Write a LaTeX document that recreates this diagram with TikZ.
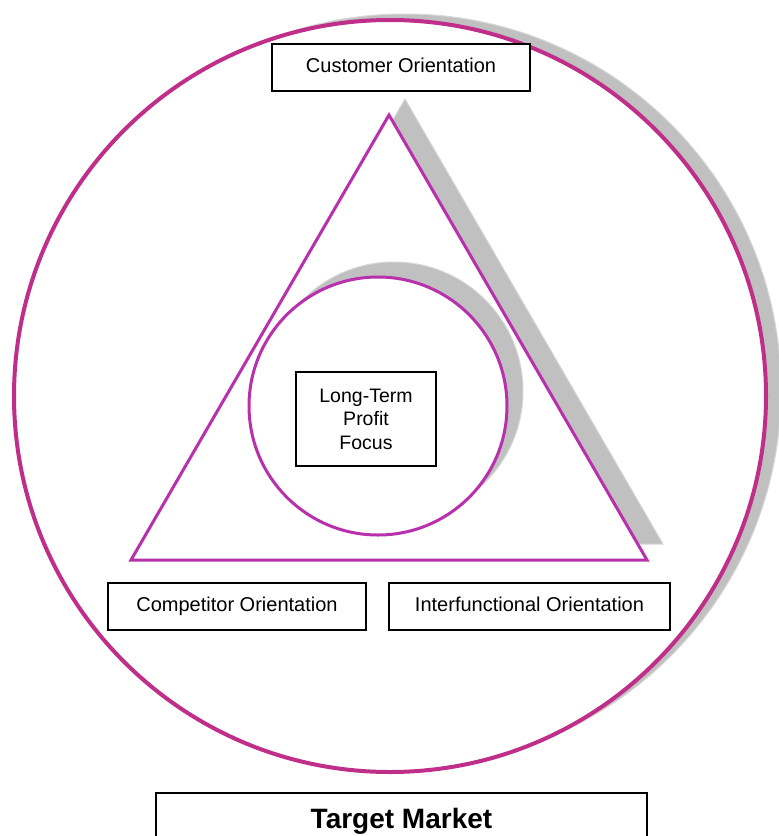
\documentclass[tikz,border=0pt]{standalone}
\usepackage{fontspec}
\setmainfont{Liberation Sans}
\definecolor{ring}{RGB}{191,46,136}
\definecolor{tri}{RGB}{184,48,172}
\definecolor{shade}{RGB}{192,192,192}
\definecolor{shadeline}{RGB}{215,215,215}
\tikzset{
  shadow/.style={fill=shade, draw=shadeline, line width=1pt},
  textbox/.style={draw=black, line width=1.4pt, fill=white, inner sep=0pt,
    font=\fontsize{20}{24}\selectfont, align=center},
  oneline/.style={text height=14.5pt, text depth=4.2pt},
}
\begin{document}
\begin{tikzpicture}[x=1pt,y=-1pt]
\useasboundingbox (0,0) rectangle (779,836);
\clip (0,0) rectangle (779,836);
\fill[white] (0,0) rectangle (779,836);
% outer ring with shadow
\draw[shadow] (405,390) circle[radius=376pt];
\draw[ring, line width=4pt, fill=white] (390,396) circle[radius=376pt];
% triangle with shadow
\draw[shadow] (405,99) -- (147,544) -- (663,544) -- cycle;
\draw[tri, line width=3pt, fill=white, line join=miter] (389,115) -- (131,560) -- (647,560) -- cycle;
% inner circle with shadow
\draw[shadow] (394,391) circle[radius=129pt];
\draw[tri, line width=3pt, fill=white] (378,406) circle[radius=129pt];
% boxes
\node[textbox, oneline, minimum width=258pt, minimum height=47pt] (cust) at (401,67.5) {Customer Orientation};
\node[textbox, minimum width=140pt, minimum height=94pt, font=\fontsize{19.5}{23.5}\selectfont] (ltp) at (366,419) {Long-Term\\Profit\\Focus};
\node[textbox, oneline, minimum width=258pt, minimum height=47pt] (comp) at (237,606.5) {Competitor Orientation};
\node[textbox, oneline, minimum width=281pt, minimum height=47pt] (inter) at (529.5,606.5) {Interfunctional Orientation};
\node[textbox, minimum width=491pt, minimum height=56pt, font=\fontsize{28}{32}\selectfont\bfseries] (target) at (401.5,821) {Target Market};
\end{tikzpicture}
\end{document}
